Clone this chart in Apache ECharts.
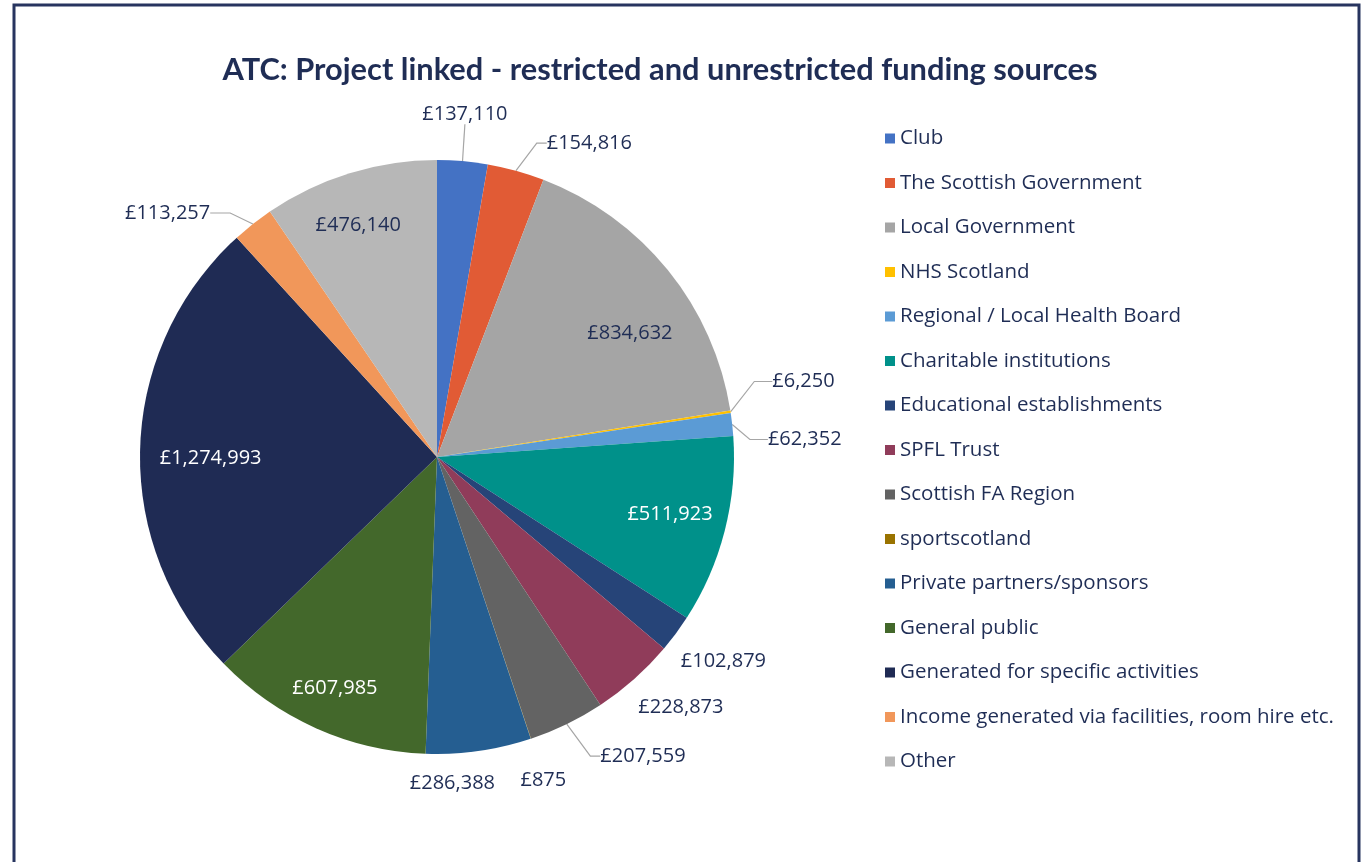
<!DOCTYPE html>
<html>
<head>
<meta charset="utf-8">
<script src="https://cdn.jsdelivr.net/npm/echarts@6/dist/echarts.min.js"></script>
<style>
  html, body { margin: 0; padding: 0; background: #ffffff; }
  #chart { width: 1371px; height: 862px; }
</style>
</head>
<body>
<div id="chart"></div>
<script>
// Funding source categories, in slice order (clockwise from 12 o'clock)
const categories = [
  'Club',
  'The Scottish Government',
  'Local Government',
  'NHS Scotland',
  'Regional / Local Health Board',
  'Charitable institutions',
  'Educational establishments',
  'SPFL Trust',
  'Scottish FA Region',
  'sportscotland',
  'Private partners/sponsors',
  'General public',
  'Generated for specific activities',
  'Income generated via facilities, room hire etc.',
  'Other'
];

// Amounts in pounds
const amounts = [
  137110, 154816, 834632, 6250, 62352, 511923, 102879, 228873,
  207559, 875, 286388, 607985, 1274993, 113257, 476140
];

const sliceColors = [
  '#4472c4', '#e15b35', '#a5a5a5', '#ffc000', '#5b9bd5', '#00918a',
  '#264478', '#903c5a', '#636363', '#997300', '#255e91', '#43682b',
  '#1f2b54', '#f1975a', '#b7b7b7'
];

// Slices whose value sits inside the pie, and the text colour used there
const insideLabelColor = {
  'Local Government': '#1f2d55',
  'Charitable institutions': '#ffffff',
  'General public': '#ffffff',
  'Generated for specific activities': '#ffffff',
  'Other': '#1f2d55'
};

// Leader line lengths [first, second, visible] for the values drawn outside
const leader = {
  'Club': [32, 0, true],
  'The Scottish Government': [30, 10, true],
  'NHS Scotland': [28, 18, true],
  'Regional / Local Health Board': [22, 18, true],
  'Educational establishments': [12, 0, false],
  'SPFL Trust': [14, 0, false],
  'Scottish FA Region': [30, 10, true],
  'sportscotland': [22, 0, false],
  'Private partners/sponsors': [14, 0, false],
  'Income generated via facilities, room hire etc.': [14, 20, true]
};

// Label nudges [dx, dy] applied on top of the default pie label placement
const nudge = {
  'Club': [-48, -15],
  'The Scottish Government': [-22, -8],
  'NHS Scotland': [-4, -26],
  'Regional / Local Health Board': [-5, 10],
  'Educational establishments': [-17, 21],
  'SPFL Trust': [-27, 18],
  'Scottish FA Region': [-14, 5],
  'sportscotland': [-39, 7],
  'Private partners/sponsors': [-76, -12],
  'Income generated via facilities, room hire etc.': [-9, 0]
};
const insideNudge = {
  'Local Government': [6, 28],
  'Charitable institutions': [0, -2],
  'General public': [-4, 12],
  'Generated for specific activities': [14, 9],
  'Other': [-8, -2]
};

const navy = '#1f2d55';
const pounds = v => '£' + v.toLocaleString('en-GB');

const mainData = categories.map((name, i) => {
  const item = { name: name, value: amounts[i], itemStyle: { color: sliceColors[i] } };
  const l = leader[name];
  if (l) {
    item.label = { show: true };
    item.labelLine = { show: l[2], length: l[0], length2: l[1] };
  } else {
    item.label = { show: false };
    item.labelLine = { show: false };
  }
  return item;
});

const ringData = categories.map((name, i) => {
  const c = insideLabelColor[name];
  return {
    name: name,
    value: amounts[i],
    itemStyle: { color: 'rgba(0,0,0,0)' },
    label: c ? { show: true, color: c } : { show: false }
  };
});

// Move an outside label by its nudge; giving x/y lets ECharts re-route the leader line
function moveOutsideLabel(p) {
  const n = nudge[categories[p.dataIndex]];
  if (!n) return {};
  const r = p.labelRect;
  let ax = r.x;
  if (p.align === 'right') ax = r.x + r.width;
  else if (p.align === 'center') ax = r.x + r.width / 2;
  return { x: ax + n[0], y: r.y + r.height / 2 + n[1] };
}

const chart = echarts.init(document.getElementById('chart'), null, { renderer: 'canvas' });

chart.setOption({
  backgroundColor: '#ffffff',
  animation: false,
  title: {
    text: 'ATC: Project linked - restricted and unrestricted funding sources',
    left: 655,
    textAlign: 'center',
    top: 50,
    textStyle: {
      fontFamily: 'Lato',
      fontWeight: 'bold',
      fontSize: 30.8,
      color: navy
    }
  },
  legend: {
    orient: 'vertical',
    left: 880,
    top: 123,
    itemWidth: 10,
    itemHeight: 10,
    itemGap: 23.5,
    icon: 'rect',
    selectedMode: false,
    data: categories,
    textStyle: {
      fontFamily: 'Open Sans',
      fontSize: 20.5,
      lineHeight: 20,
      color: navy
    }
  },
  graphic: [{
    type: 'rect',
    shape: { x: 14, y: 5, width: 1345, height: 900 },
    style: { fill: 'none', stroke: '#27345f', lineWidth: 3 },
    silent: true
  }],
  series: [
    {
      type: 'pie',
      center: [437, 457],
      radius: 297,
      startAngle: 90,
      clockwise: true,
      avoidLabelOverlap: true,
      data: mainData,
      label: {
        position: 'outside',
        formatter: p => pounds(p.value),
        fontFamily: 'Open Sans',
        fontSize: 20,
        color: navy
      },
      labelLine: {
        lineStyle: { color: '#a6a6a6', width: 1.2 }
      },
      labelLayout: moveOutsideLabel,
      emphasis: { disabled: true }
    },
    {
      type: 'pie',
      center: [437, 457],
      radius: [178, 297],
      startAngle: 90,
      clockwise: true,
      silent: true,
      data: ringData,
      label: {
        position: 'inside',
        formatter: p => pounds(p.value),
        fontFamily: 'Open Sans',
        fontSize: 20
      },
      labelLine: { show: false },
      labelLayout: p => {
        const n = insideNudge[categories[p.dataIndex]];
        return n ? { dx: n[0], dy: n[1] } : {};
      },
      emphasis: { disabled: true }
    }
  ]
});
</script>
</body>
</html>
